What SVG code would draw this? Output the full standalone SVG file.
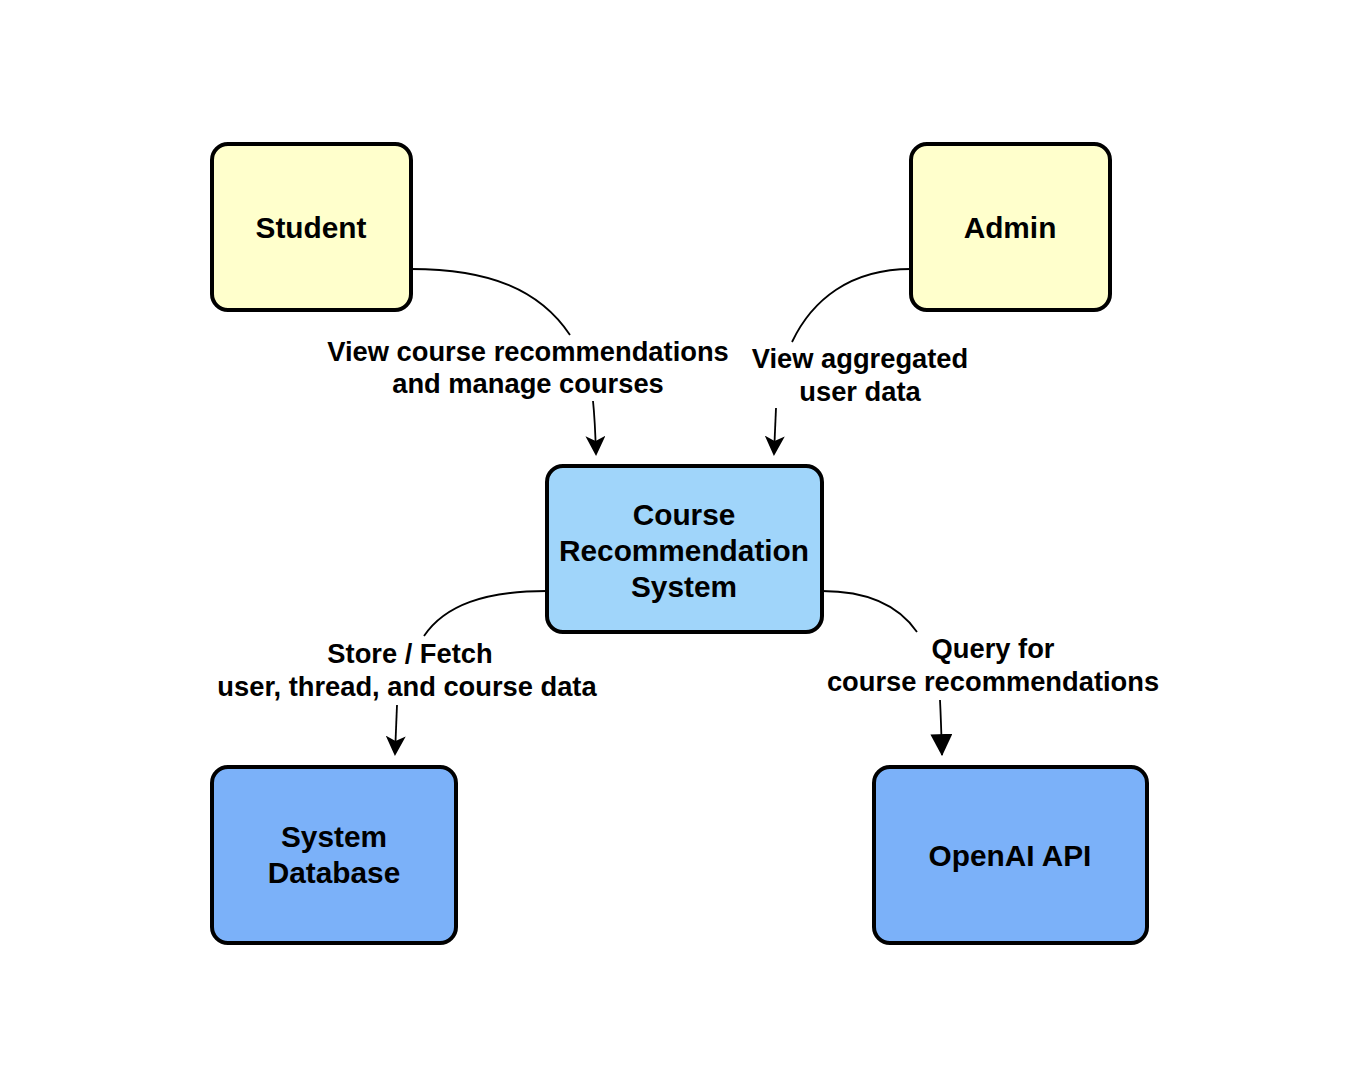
<svg xmlns="http://www.w3.org/2000/svg" width="1362" height="1090" viewBox="0 0 1362 1090">
  <style>
    .box { stroke: #000; stroke-width: 4; }
    .actor { fill: #FFFFCC; }
    .sys { fill: #A0D5FA; }
    .ext { fill: #7BB1F9; }
    .nt { font-family: "Liberation Sans", Arial, sans-serif; font-weight: bold; font-size: 29.8px; fill: #000; text-anchor: middle; }
    .lt { font-family: "Liberation Sans", Arial, sans-serif; font-weight: bold; font-size: 27.3px; fill: #000; text-anchor: middle; }
    .edge { fill: none; stroke: #000; stroke-width: 1.8; }
  </style>
  <defs>
    <marker id="vee" viewBox="0 0 20 20" refX="18" refY="10" markerWidth="20" markerHeight="20" markerUnits="userSpaceOnUse" orient="auto">
      <path d="M0,0 L20,10 L0,20 L5,10 z" fill="#000"/>
    </marker>
    <marker id="tri" viewBox="0 0 20 20" refX="19" refY="10" markerWidth="22" markerHeight="22" markerUnits="userSpaceOnUse" orient="auto">
      <path d="M0,0 L20,10 L0,20 z" fill="#000"/>
    </marker>
  </defs>
  <rect width="1362" height="1090" fill="#fff"/>

  <g id="connectors">
    <path class="edge" d="M411,269 C490,269 540,290 570,335"/>
    <path class="edge" d="M593,401 Q595,420 596,454" marker-end="url(#vee)"/>
    <path class="edge" d="M911,269 C850,269 812,300 792,342"/>
    <path class="edge" d="M776,408 L774,454" marker-end="url(#vee)"/>
    <path class="edge" d="M547,591 C485,591 445,605 424,636"/>
    <path class="edge" d="M397,705 L395,754" marker-end="url(#vee)"/>
    <path class="edge" d="M822,591 C865,591 897,603 917,632"/>
    <path class="edge" d="M940,700 Q941,720 942,755" marker-end="url(#tri)"/>
    <text class="lt" x="528" y="361">View course recommendations</text>
    <text class="lt" x="528" y="393">and manage courses</text>
    <text class="lt" x="860" y="368">View aggregated</text>
    <text class="lt" x="860" y="401">user data</text>
    <text class="lt" x="410" y="663">Store / Fetch</text>
    <text class="lt" x="407" y="696">user, thread, and course data</text>
    <text class="lt" x="993" y="658">Query for</text>
    <text class="lt" x="993" y="691">course recommendations</text>
  </g>

  <g id="student">
    <rect class="box actor" x="212" y="144" width="199" height="166" rx="16"/>
    <text class="nt" x="311" y="238">Student</text>
  </g>
  <g id="admin">
    <rect class="box actor" x="911" y="144" width="199" height="166" rx="16"/>
    <text class="nt" x="1010" y="238">Admin</text>
  </g>
  <g id="crs">
    <rect class="box sys" x="547" y="466" width="275" height="166" rx="16"/>
    <text class="nt" x="684" y="525">Course</text>
    <text class="nt" x="684" y="561">Recommendation</text>
    <text class="nt" x="684" y="597">System</text>
  </g>
  <g id="db">
    <rect class="box ext" x="212" y="767" width="244" height="176" rx="16"/>
    <text class="nt" x="334" y="847">System</text>
    <text class="nt" x="334" y="883">Database</text>
  </g>
  <g id="openai">
    <rect class="box ext" x="874" y="767" width="273" height="176" rx="16"/>
    <text class="nt" x="1010" y="866">OpenAI API</text>
  </g>
</svg>
